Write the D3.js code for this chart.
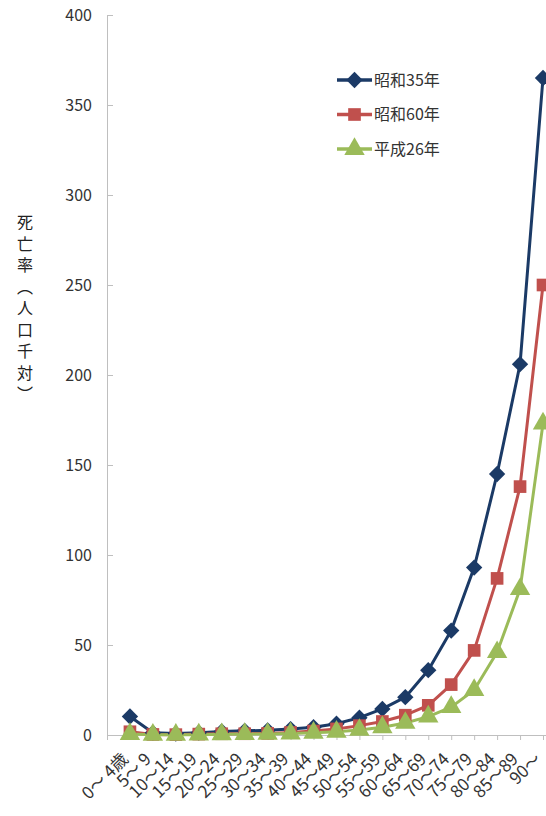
<!DOCTYPE html>
<html><head><meta charset="utf-8">
<script src="https://cdn.jsdelivr.net/npm/d3@7"></script>
<style>
html,body{margin:0;padding:0;background:#fff;}
svg{display:block;font-family:"Noto Sans CJK JP","Noto Sans",sans-serif;}
</style></head>
<body>
<svg id="chart" width="546" height="816"></svg>
<script>
const categories = ["0～ 4歳","5～ 9","10～14","15～19","20～24","25～29","30～34","35～39","40～44","45～49","50～54","55～59","60～64","65～69","70～74","75～79","80～84","85～89","90～"];
const seriesNames = ["昭和35年","昭和60年","平成26年"];
const s1960 = [10.3,1.2,0.8,1.3,2.0,2.3,2.6,3.3,4.3,6.3,9.6,14.5,21,36,58,93,145,206,365];
const s1985 = [1.8,0.3,0.2,0.5,0.7,0.7,0.9,1.4,2.2,3.4,5.2,7.5,11,16.5,28,47,87,138,250];
const s2014 = [0.5,0.1,0.1,0.2,0.4,0.5,0.6,0.8,1.2,1.8,2.8,4.3,6.7,10.2,15.5,25,46,81,173];
const yTicks = [0,50,100,150,200,250,300,350,400];
const colors = ["#1b3a66","#c0504d","#9bbb59"];
const shapes = [d3.symbolDiamond2 || d3.symbolDiamond, d3.symbolSquare, d3.symbolTriangle];

const svg = d3.select("#chart");
const x = d3.scalePoint().domain([""].concat(categories)).range([107, 543]);
const y = d3.scaleLinear().domain([0,400]).range([735, 15]);
const axisColor = "#bfbfbf";

// Y axis
const yAxis = svg.append("g").attr("transform","translate(107,0)")
  .call(d3.axisRight(y).tickValues(yTicks).tickSize(6).tickFormat(""));
yAxis.select(".domain").attr("stroke",axisColor).attr("d","M0.5,15V735");
yAxis.selectAll(".tick line").attr("stroke",axisColor).attr("x2",6);
svg.append("g").selectAll("text").data(yTicks).join("text")
  .attr("x",92).attr("y",d=>y(d)).attr("dy","0.35em")
  .attr("text-anchor","end").attr("font-size",16).attr("fill","#333")
  .text(d=>d);

// X axis
const xAxis = svg.append("g").attr("transform","translate(0,735)")
  .call(d3.axisBottom(x).tickSize(5).tickFormat(""));
xAxis.select(".domain").attr("stroke",axisColor).attr("d","M107,0.5H546");
xAxis.selectAll(".tick line").attr("stroke",axisColor);
svg.append("g").selectAll("text").data(categories).join("text")
  .attr("transform",d=>`translate(${x(d)-5},${756}) rotate(-45)`)
  .attr("text-anchor","end").attr("dy","0.35em")
  .attr("font-size",17).attr("fill","#333")
  .text(d=>d);

// Y title (vertical)
svg.append("text")
  .attr("x",25).attr("y",214)
  .attr("writing-mode","vertical-rl")
  .attr("font-size",16).attr("letter-spacing",5.5).attr("fill","#222")
  .attr("style","writing-mode:vertical-rl;")
  .text("死亡率（人口千対）");

// Lines
const data = [s1960,s1985,s2014];
const line = d3.line().x((d,i)=>x(categories[i])).y(d=>y(d));
const sizes = [170,160,180];
data.forEach((s,k)=>{
  svg.append("path").datum(s).attr("d",line)
    .attr("fill","none").attr("stroke",colors[k]).attr("stroke-width",3).attr("stroke-linejoin","round");
});
data.forEach((s,k)=>{
  svg.append("g").selectAll("path").data(s).join("path")
    .attr("transform",(d,i)=>`translate(${x(categories[i])},${y(d)})`)
    .attr("d",d3.symbol().type(shapes[k]).size(sizes[k]))
    .attr("fill",colors[k]);
});

// Legend
const lg = svg.append("g");
seriesNames.forEach((n,k)=>{
  const ly = 80 + k*34.5;
  lg.append("line").attr("x1",337).attr("x2",372).attr("y1",ly).attr("y2",ly)
    .attr("stroke",colors[k]).attr("stroke-width",3.5);
  lg.append("path").attr("transform",`translate(354.5,${ly})`)
    .attr("d",d3.symbol().type(shapes[k]).size(sizes[k])).attr("fill",colors[k]);
  lg.append("text").attr("x",374).attr("y",ly).attr("dy","0.35em")
    .attr("font-size",16).attr("fill","#333").text(n);
});
</script>
</body></html>
